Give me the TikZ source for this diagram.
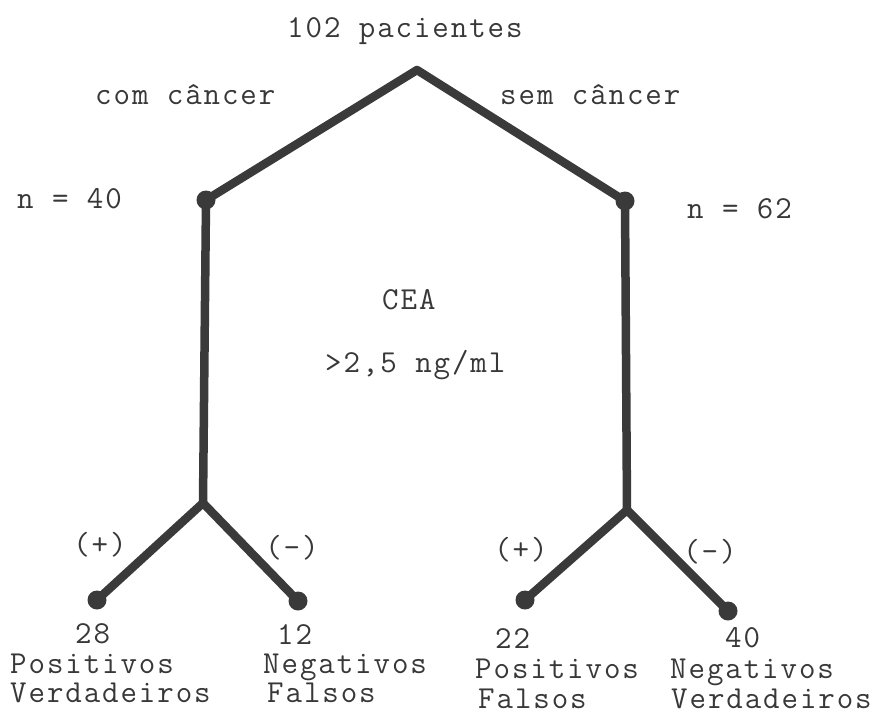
\documentclass[tikz,border=0pt]{standalone}
\usepackage{fontspec}
\setmonofont{Latin Modern Mono}[LetterSpace=6]
\begin{document}
\begin{tikzpicture}[x=1pt,y=-1pt,
  branch/.style={draw=linegray,line width=8.5pt,line join=round,line cap=round},
  dot/.style={circle,fill=linegray,minimum size=19pt,inner sep=0pt},
  lbl/.style={anchor=base west,inner sep=0pt,text=txtgray,font=\fontsize{32}{34}\selectfont\ttfamily},
  sgn/.style={anchor=center,inner sep=0pt,text=txtgray,font=\fontsize{32}{34}\selectfont\ttfamily}]
\definecolor{linegray}{HTML}{3A3A3A}
\definecolor{txtgray}{HTML}{383838}
\useasboundingbox (0,0) rectangle (878,715);
% structure
\coordinate (apex) at (417,70);
\node[dot] (L1) at (206,200) {};
\node[dot] (R1) at (625,201) {};
\coordinate (LB) at (203,503);
\coordinate (RB) at (627,510);
\node[dot] (LL) at (97,600) {};
\node[dot] (LR) at (298,601) {};
\node[dot] (RL) at (525,600) {};
\node[dot] (RR) at (728,611) {};
\draw[branch] (L1.center) -- (apex) -- (R1.center);
\draw[branch] (L1.center) -- (LB);
\draw[branch] (R1.center) -- (RB);
\draw[branch] (LL.center) -- (LB) -- (LR.center);
\draw[branch] (RL.center) -- (RB) -- (RR.center);
% texts
\node[lbl] (tot) at (287,37) {102 pacientes};
\node[lbl] (com) at (95,104) {com câncer};
\node[lbl] (sem) at (500,104) {sem câncer};
\node[lbl] (n40) at (17,208) {n = 40};
\node[lbl] (n62) at (687,218) {n = 62};
\node[lbl] (cea) at (382,309) {CEA};
\node[lbl] (thr) at (325,372) {>2,5 ng/ml};
\node[sgn] (p1) at (100,545) {(+)};
\node[sgn] (m1) at (292,548) {(-)};
\node[sgn] (p2) at (521,550) {(+)};
\node[sgn] (m2) at (710,552) {(-)};
\node[lbl] (a1) at (75,643) {28};
\node[lbl] (a2) at (10,673) {Positivos};
\node[lbl] (a3) at (10,702) {Verdadeiros};
\node[lbl] (b1) at (277,644) {12};
\node[lbl] (b2) at (263,673) {Negativos};
\node[lbl] (b3) at (267,702) {Falsos};
\node[lbl] (c1) at (495,648) {22};
\node[lbl] (c2) at (475,678) {Positivos};
\node[lbl] (c3) at (478,708) {Falsos};
\node[lbl] (d1) at (725,647) {40};
\node[lbl] (d2) at (670,678) {Negativos};
\node[lbl] (d3) at (671,708) {Verdadeiros};
\end{tikzpicture}
\end{document}
